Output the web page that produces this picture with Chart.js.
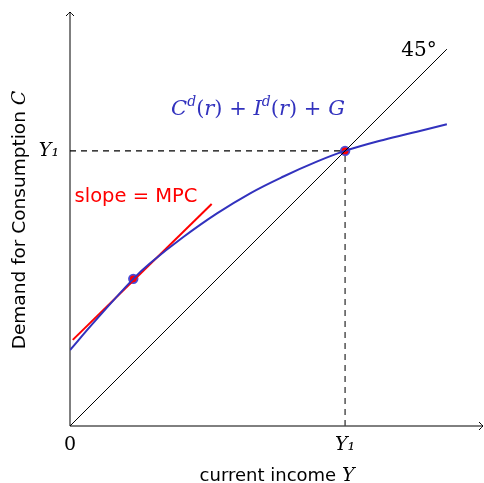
<!DOCTYPE html>
<html>
<head>
<meta charset="utf-8">
<script src="https://cdn.jsdelivr.net/npm/chart.js@4.4.1/dist/chart.umd.min.js"></script>
<style>
  html, body { margin: 0; padding: 0; background: #fff; }
  #wrap { width: 484px; height: 483px; }
</style>
</head>
<body>
<div id="wrap"><canvas id="keynes"></canvas></div>
<script>
// values (1 unit = one step of the axes)
var curveX = [0, 0.85, 2.3, 2.91, 4.12, 5.33, 6.55, 7.76, 8.97, 10, 11.39, 12.61, 13.7];
var curveY = [2.76, 3.75, 5.35, 5.92, 6.87, 7.72, 8.46, 9.07, 9.61, 10, 10.4, 10.7, 10.97];
var diagX = [0, 13.7];
var diagY = [0, 13.7];
var tanX = [0.1, 5.15];
var tanY = [3.13, 8.07];
var dotX = [2.3, 10];
var dotY = [5.35, 10];
var Y1 = 10;
var xTicks = [0, Y1];
var xTickLabels = ['0', 'Y₁'];
var yTicks = [Y1];
var yTickLabels = ['Y₁'];

function pts(xs, ys) {
    return xs.map(function (x, i) { return { x: x, y: ys[i] }; });
}

var blue = 'rgb(50, 50, 190)';
var serif = '"DejaVu Serif", serif';
var sans = '"DejaVu Sans", sans-serif';

// mixed-font text runs: [text, font, dy]
function drawRuns(ctx, runs, x, y, color, align) {
    ctx.save();
    ctx.fillStyle = color;
    ctx.textBaseline = 'alphabetic';
    var total = 0;
    runs.forEach(function (r) { ctx.font = r[1]; total += ctx.measureText(r[0]).width; });
    var cx = align === 'center' ? x - total / 2 : x;
    runs.forEach(function (r) {
        ctx.font = r[1];
        ctx.fillText(r[0], cx, y + (r[2] || 0));
        cx += ctx.measureText(r[0]).width;
    });
    ctx.restore();
}

var decor = {
    id: 'decor',
    beforeDatasetsDraw: function (chart) {
        var ctx = chart.ctx, a = chart.chartArea;
        var sx = chart.scales.x, sy = chart.scales.y;
        var ox = sx.getPixelForValue(0), oy = sy.getPixelForValue(0);
        ctx.save();
        ctx.strokeStyle = '#000';
        ctx.lineWidth = 1;
        ctx.beginPath();
        ctx.moveTo(ox, oy); ctx.lineTo(a.right - 1, oy);
        ctx.moveTo(ox, oy); ctx.lineTo(ox, a.top);
        // arrow heads
        ctx.moveTo(a.right - 5, oy - 4); ctx.quadraticCurveTo(a.right - 2, oy - 1, a.right - 1, oy);
        ctx.quadraticCurveTo(a.right - 2, oy + 1, a.right - 5, oy + 4);
        ctx.moveTo(ox - 4, a.top + 4); ctx.quadraticCurveTo(ox - 1, a.top + 1, ox, a.top);
        ctx.quadraticCurveTo(ox + 1, a.top + 1, ox + 4, a.top + 4);
        ctx.stroke();
        ctx.restore();
    },
    afterDraw: function (chart) {
        var ctx = chart.ctx;
        var it = 'italic 21px ' + serif, up = '21px ' + serif, sup = 'italic 14px ' + serif;
        // axis titles
        drawRuns(ctx, [['current income ', '18px ' + sans], ['Y', 'italic 19px ' + serif]], 277, 481, '#000', 'center');
        ctx.save();
        ctx.translate(25, 220);
        ctx.rotate(-Math.PI / 2);
        drawRuns(ctx, [['Demand for Consumption ', '18.5px ' + sans], ['C', 'italic 19px ' + serif]], 0, 0, '#000', 'center');
        ctx.restore();
        // annotations
        drawRuns(ctx, [['45°', '20px ' + serif]], 419, 56, '#000', 'center');
        drawRuns(ctx, [['slope = MPC', '19.5px ' + sans]], 136, 202, 'rgb(255, 0, 0)', 'center');
        drawRuns(ctx, [
            ['C', it], ['d', sup, -9], ['(', up], ['r', it], [')', up], [' + ', up],
            ['I', it], ['d', sup, -9], ['(', up], ['r', it], [')', up], [' + ', up], ['G', it]
        ], 258, 115, blue, 'center');
    }
};

new Chart(document.getElementById('keynes').getContext('2d'), {
    type: 'scatter',
    data: {
        datasets: [
            { data: pts(diagX, diagY), showLine: true, borderColor: '#000', borderWidth: 1, pointRadius: 0 },
            { data: pts([0, Y1], [Y1, Y1]), showLine: true, borderColor: '#000', borderWidth: 1.2, borderDash: [6, 5], pointRadius: 0 },
            { data: pts([Y1, Y1], [0, Y1]), showLine: true, borderColor: '#444', borderWidth: 1.4, borderDash: [6, 5], pointRadius: 0 },
            { data: pts(curveX, curveY), showLine: true, borderColor: blue, borderWidth: 2, pointRadius: 0, tension: 0.4 },
            { data: pts(tanX, tanY), showLine: true, borderColor: 'rgb(255, 0, 0)', borderWidth: 2, pointRadius: 0 },
            { data: pts(dotX, dotY), pointRadius: 4.3, pointBackgroundColor: 'rgb(255, 0, 0)', pointBorderColor: 'rgb(75, 75, 215)', pointBorderWidth: 1.8 }
        ]
    },
    options: {
        responsive: true,
        maintainAspectRatio: false,
        animation: false,
        layout: { autoPadding: false, padding: { top: 12, right: 0, left: 0, bottom: 0 } },
        plugins: { legend: { display: false }, tooltip: { enabled: false } },
        scales: {
            x: {
                type: 'linear', min: 0, max: 15.05,
                border: { display: false },
                grid: { display: false, drawTicks: false },
                afterFit: function (s) { s.height = 57; s.paddingLeft = 0; s.paddingRight = 0; },
                afterBuildTicks: function (s) { s.ticks = xTicks.map(function (v) { return { value: v }; }); },
                ticks: {
                    padding: 8, color: '#000',
                    font: function (c) {
                        return { family: serif, size: 19, style: c.tick && c.tick.value === 0 ? 'normal' : 'italic' };
                    },
                    callback: function (v) { return xTickLabels[xTicks.indexOf(v)]; }
                }
            },
            y: {
                type: 'linear', min: 0, max: 15.05,
                border: { display: false },
                grid: { display: false, drawTicks: false },
                afterFit: function (s) { s.width = 70; s.paddingTop = 0; s.paddingBottom = 0; },
                afterBuildTicks: function (s) { s.ticks = yTicks.map(function (v) { return { value: v }; }); },
                ticks: {
                    padding: 11, color: '#000', font: { family: serif, size: 19, style: 'italic' },
                    callback: function (v) { return yTickLabels[yTicks.indexOf(v)]; }
                }
            }
        }
    },
    plugins: [decor]
});
</script>
</body>
</html>
